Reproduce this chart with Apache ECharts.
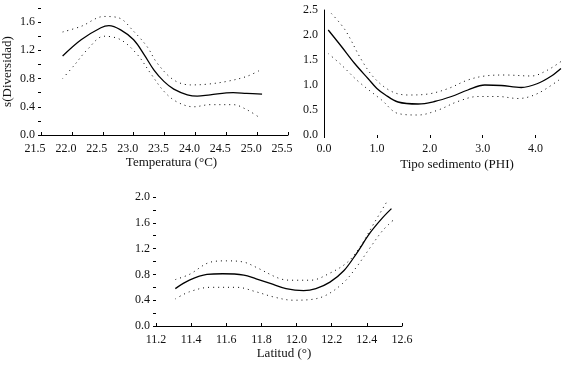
<!DOCTYPE html>
<html><head><meta charset="utf-8">
<script src="https://cdn.jsdelivr.net/npm/echarts@6/dist/echarts.min.js"></script>
<style>html,body{margin:0;padding:0;background:#fff}#c{width:570px;height:373px}</style>
</head><body><div id="c"></div>
<script>
// Panel 1: Temperatura
const tempFitX = [21.85,22.15,22.47,22.6,22.79,23.0,23.17,23.33,23.49,23.65,23.87,24.03,24.24,24.61,24.83,25.08];
const tempFitY = [1.12,1.35,1.52,1.55,1.49,1.35,1.14,0.92,0.76,0.65,0.57,0.55,0.57,0.60,0.59,0.58];
const tempUpX = [21.85,22.15,22.52,22.76,23.0,23.22,23.38,23.65,23.92,24.19,24.51,24.83,25.05];
const tempUpY = [1.46,1.54,1.68,1.66,1.47,1.25,1.02,0.78,0.71,0.72,0.76,0.83,0.92];
const tempLoX = [21.85,22.04,22.25,22.52,22.79,23.06,23.27,23.49,23.7,23.97,24.24,24.61,24.83,25.05];
const tempLoY = [0.80,0.99,1.21,1.40,1.35,1.14,0.88,0.62,0.47,0.40,0.43,0.43,0.36,0.24];
// Panel 2: Tipo sedimento
const sedFitX = [0.08,0.33,0.58,0.84,1.0,1.15,1.40,1.78,2.09,2.41,2.72,3.04,3.35,3.73,4.04,4.30,4.48];
const sedFitY = [2.10,1.77,1.43,1.12,0.93,0.81,0.66,0.62,0.67,0.77,0.90,1.00,0.99,0.95,1.03,1.18,1.33];
const sedUpX = [0.14,0.40,0.71,0.96,1.28,1.59,1.97,2.35,2.72,3.04,3.42,3.92,4.23,4.48];
const sedUpY = [2.43,2.10,1.50,1.13,0.87,0.80,0.82,0.93,1.10,1.18,1.20,1.18,1.30,1.47];
const sedLoX = [0.08,0.33,0.65,1.09,1.40,1.78,2.16,2.53,2.91,3.29,3.67,4.04,4.48];
const sedLoY = [1.63,1.40,1.07,0.70,0.43,0.40,0.50,0.67,0.77,0.77,0.73,0.83,1.13];
// Panel 3: Latitud
const latFitX = [11.31,11.39,11.49,11.58,11.70,11.77,11.85,11.94,12.04,12.11,12.19,12.27,12.34,12.42,12.49,12.54];
const latFitY = [0.58,0.71,0.80,0.81,0.79,0.73,0.66,0.58,0.55,0.58,0.68,0.86,1.12,1.45,1.68,1.82];
const latUpX = [11.31,11.39,11.51,11.60,11.70,11.77,11.91,11.98,12.08,12.19,12.29,12.36,12.44,12.51];
const latUpY = [0.72,0.80,0.99,1.01,0.99,0.91,0.73,0.71,0.71,0.82,0.99,1.22,1.59,1.91];
const latLoX = [11.31,11.39,11.51,11.66,11.77,11.87,11.98,12.08,12.17,12.27,12.34,12.42,12.49,12.55];
const latLoY = [0.42,0.53,0.60,0.60,0.53,0.45,0.40,0.41,0.48,0.68,0.91,1.22,1.48,1.64];

const zip = (xs, ys) => xs.map((x, i) => [x, ys[i]]);
const FONT = 'Liberation Serif';
const lbl = {fontFamily: FONT, fontSize: 12, color: '#111'};
const nameStyle = {fontFamily: FONT, fontSize: 13, color: '#111'};
const solid = {color: '#000', width: 1.3, type: 'solid'};
const dotted = {color: '#000', width: 1, type: [1, 4]};

function ser(idx, xs, ys, style) {
  return {type: 'line', xAxisIndex: idx, yAxisIndex: idx, data: zip(xs, ys), smooth: 0.35,
    showSymbol: false, lineStyle: style, silent: true, animation: false};
}

const chart = echarts.init(document.getElementById('c'), null, {renderer: 'canvas'});
chart.setOption({
  animation: false,
  backgroundColor: '#fff',
  grid: [
    {left: 40, right: 282, top: 8, bottom: 238},
    {left: 324, right: 8, top: 10, bottom: 238},
    {left: 156, right: 168, top: 197, bottom: 47}
  ],
  xAxis: [
    {gridIndex: 0, type: 'value', min: 21.5, max: 25.5, interval: 0.5,
     name: 'Temperatura (°C)', nameLocation: 'middle', nameGap: 21, nameTextStyle: {...nameStyle, padding: [0, 0, 0, 14]},
     axisLine: {show: true, lineStyle: {color: '#000', width: 1}},
     axisTick: {show: true, inside: true, length: 3, lineStyle: {color: '#000'}},
     axisLabel: {...lbl, margin: 8, padding: [0, 12, 0, 0], formatter: v => v.toFixed(1)},
     splitLine: {show: false}},
    {gridIndex: 1, type: 'value', min: 0, max: 4.5, interval: 1,
     name: 'Tipo sedimento (PHI)', nameLocation: 'middle', nameGap: 23, nameTextStyle: {...nameStyle, padding: [0, 0, 0, 28]},
     axisLine: {show: false},
     axisTick: {show: true, length: 3, lineStyle: {color: '#000'}},
     axisLabel: {...lbl, margin: 8, showMaxLabel: false, formatter: v => v.toFixed(1)},
     splitLine: {show: false}},
    {gridIndex: 2, type: 'value', min: 11.2, max: 12.6, interval: 0.2,
     name: 'Latitud (°)', nameLocation: 'middle', nameGap: 21, nameTextStyle: {...nameStyle, padding: [0, 0, 0, 10]},
     axisLine: {show: true, lineStyle: {color: '#000', width: 1}},
     axisTick: {show: true, inside: true, length: 3, lineStyle: {color: '#000'}},
     axisLabel: {...lbl, margin: 8, formatter: v => v.toFixed(1)},
     splitLine: {show: false}}
  ],
  yAxis: [
    {gridIndex: 0, type: 'value', min: 0, max: 1.8, interval: 0.2,
     name: 's(Diversidad)', nameLocation: 'middle', nameGap: 27, nameTextStyle: nameStyle,
     axisLine: {show: false},
     axisTick: {show: true, length: 3, lineStyle: {color: '#000'}},
     axisLabel: {...lbl, margin: 6, formatter: v => (Math.round(v * 10) % 4 === 0) ? v.toFixed(1) : ''},
     splitLine: {show: false}},
    {gridIndex: 1, type: 'value', min: 0, max: 2.5, interval: 0.5,
     axisLine: {show: true, lineStyle: {color: '#000', width: 1}},
     axisTick: {show: false},
     axisLabel: {...lbl, margin: 6, formatter: v => v.toFixed(1)},
     splitLine: {show: false}},
    {gridIndex: 2, type: 'value', min: 0, max: 2.0, interval: 0.2,
     axisLine: {show: false},
     axisTick: {show: true, length: 3, lineStyle: {color: '#000'}},
     axisLabel: {...lbl, margin: 6, formatter: v => (Math.round(v * 10) % 4 === 0) ? v.toFixed(1) : ''},
     splitLine: {show: false}}
  ],
  series: [
    ser(0, tempFitX, tempFitY, solid),
    ser(0, tempUpX, tempUpY, dotted),
    ser(0, tempLoX, tempLoY, dotted),
    ser(1, sedFitX, sedFitY, solid),
    ser(1, sedUpX, sedUpY, dotted),
    ser(1, sedLoX, sedLoY, dotted),
    ser(2, latFitX, latFitY, solid),
    ser(2, latUpX, latUpY, dotted),
    ser(2, latLoX, latLoY, dotted)
  ]
});
</script></body></html>
